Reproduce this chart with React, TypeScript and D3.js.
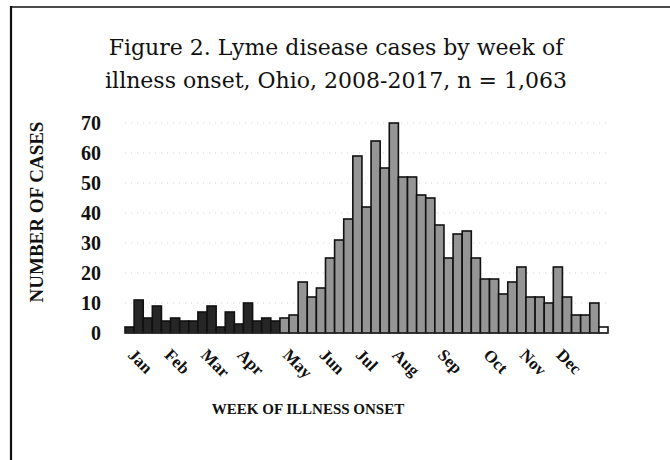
import { useEffect, useRef } from 'react';
import * as d3 from 'd3';

// weekly case counts, week 1..53
const weekCases = [
  2, 11, 5, 9, 4, 5, 4, 4, 7, 9, 2, 7, 3, 10, 4, 5, 4,
  5, 6, 17, 12, 15, 25, 31, 38, 59, 42, 64, 55, 70, 52, 52, 46, 45, 36,
  25, 33, 34, 25, 18, 18, 13, 17, 22, 12, 12, 10, 22, 12, 6, 6, 10, 2,
];
const monthLabels = ['Jan', 'Feb', 'Mar', 'Apr', 'May', 'Jun', 'Jul', 'Aug', 'Sep', 'Oct', 'Nov', 'Dec'];
const monthStartWeek = [0, 4, 8, 12, 17, 21, 25, 29, 34, 39, 43, 47];
const yTicks = [0, 10, 20, 30, 40, 50, 60, 70];
const titleLines = ['Figure 2. Lyme disease cases by week of', 'illness onset, Ohio, 2008-2017, n = 1,063'];

export default function App() {
  const ref = useRef(null);

  useEffect(() => {
    const svg = d3.select(ref.current);
    svg.selectAll('*').remove();

    const serif = '"Liberation Serif", "DejaVu Serif", serif';
    const x = d3.scaleBand()
      .domain(weekCases.map((d, i) => i))
      .range([125, 608])
      .paddingInner(0);
    const y = d3.scaleLinear().domain([0, 70]).range([333, 123]);

    // frame (left and top edges only, like the scan)
    svg.append('line').attr('x1', 11).attr('x2', 11).attr('y1', 6).attr('y2', 460)
      .attr('stroke', '#111').attr('stroke-width', 2.2);
    svg.append('line').attr('x1', 10).attr('x2', 670).attr('y1', 7).attr('y2', 7)
      .attr('stroke', '#111').attr('stroke-width', 1.6);

    // title
    svg.append('g').selectAll('text').data(titleLines).enter().append('text')
      .attr('x', 336).attr('y', (d, i) => 55 + i * 33)
      .attr('text-anchor', 'middle')
      .style('font-family', '"DejaVu Serif", serif').style('font-size', '22px').style('fill', '#111')
      .text(d => d);

    // faint dotted gridlines
    svg.append('g').selectAll('line').data(yTicks.slice(1)).enter().append('line')
      .attr('x1', 125).attr('x2', 608)
      .attr('y1', d => y(d)).attr('y2', d => y(d))
      .attr('stroke', '#d2d2d2').attr('stroke-width', 1).attr('stroke-dasharray', '1,5');

    // y tick labels
    svg.append('g').selectAll('text').data(yTicks).enter().append('text')
      .attr('x', 101).attr('y', d => y(d)).attr('dy', '0.35em')
      .attr('text-anchor', 'end')
      .style('font-family', serif).style('font-size', '20px').style('font-weight', 'bold').style('fill', '#111')
      .text(d => d);

    // y title
    svg.append('text')
      .attr('transform', 'translate(43,212) rotate(-90)')
      .attr('text-anchor', 'middle')
      .style('font-family', serif).style('font-size', '19px').style('font-weight', 'bold').style('fill', '#111')
      .text('NUMBER OF CASES');

    // bars: Jan-Apr weeks dark, rest grey, last partial week hollow
    const mayWeek = monthStartWeek[4];
    svg.append('g').selectAll('rect').data(weekCases).enter().append('rect')
      .attr('x', (d, i) => x(i))
      .attr('y', d => y(d))
      .attr('width', x.bandwidth())
      .attr('height', d => y(0) - y(d))
      .attr('fill', (d, i) => i < mayWeek ? '#262626' : (i === weekCases.length - 1 ? '#fff' : '#959595'))
      .attr('stroke', '#111')
      .attr('stroke-width', 1.6);

    // baseline
    svg.append('line').attr('x1', 125).attr('x2', 608).attr('y1', y(0)).attr('y2', y(0))
      .attr('stroke', '#333').attr('stroke-width', 1);

    // month labels, rotated
    svg.append('g').selectAll('text').data(monthLabels).enter().append('text')
      .attr('transform', (d, i) => `translate(${x(monthStartWeek[i]) + 2},${356}) rotate(45)`)
      .attr('text-anchor', 'start')
      .style('font-family', serif).style('font-size', '17px').style('font-weight', 'bold').style('fill', '#111')
      .text(d => d);

    // x title
    svg.append('text')
      .attr('x', 308).attr('y', 414)
      .attr('text-anchor', 'middle')
      .style('font-family', serif).style('font-size', '15px').style('font-weight', 'bold').style('fill', '#111')
      .text('WEEK OF ILLNESS ONSET');
  }, []);

  return (
    <svg ref={ref} width={670} height={460}
      style={{ position: 'absolute', left: 0, top: 0, background: '#fff' }} />
  );
}
